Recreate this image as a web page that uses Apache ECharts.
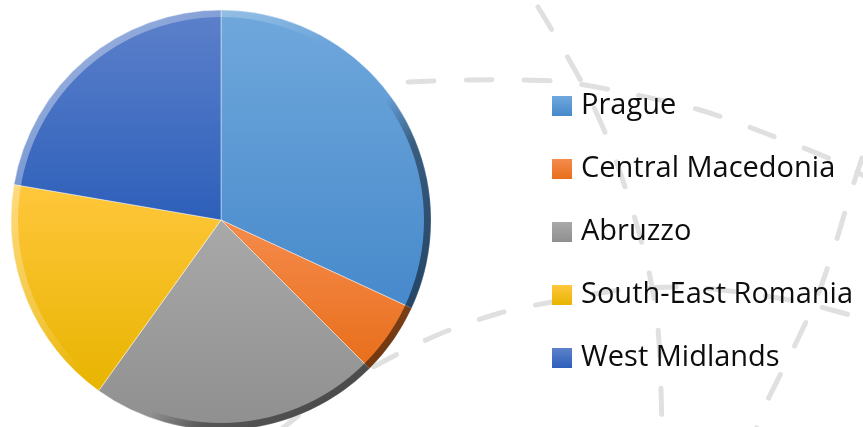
<!DOCTYPE html>
<html>
<head>
<meta charset="utf-8">
<script src="https://cdn.jsdelivr.net/npm/echarts@6/dist/echarts.min.js"></script>
<style>
html,body{margin:0;padding:0;background:#fff;}
#chart{width:863px;height:427px;}
</style>
</head>
<body>
<div id="chart"></div>
<script>
// ---- data ----
const categories = ['Prague', 'Central Macedonia', 'Abruzzo', 'South-East Romania', 'West Midlands'];
const values = [31.9, 5.6, 22.4, 17.8, 22.3];

// ---- styles ----
const topColors = ['#70A8DC', '#F58B4C', '#A9A9A9', '#FFC73C', '#5D81CB'];
const bottomColors = ['#4689CB', '#E86E1A', '#8F8F8F', '#E8B400', '#2D5FBA'];

function grad(i) {
  return new echarts.graphic.LinearGradient(0, 0, 0, 1, [
    { offset: 0, color: topColors[i] },
    { offset: 1, color: bottomColors[i] }
  ]);
}

const pieData = categories.map((name, i) => ({
  name: name,
  value: values[i],
  itemStyle: { color: grad(i) }
}));

const dashStyle = {
  stroke: '#E0E0E0',
  lineWidth: 5,
  lineCap: 'round',
  lineDash: [26, 32],
  fill: null
};
function deco(points) {
  return { type: 'polyline', z: -10, silent: true, shape: { points: points, smooth: 0.3 }, style: dashStyle };
}

const chart = echarts.init(document.getElementById('chart'), null, { renderer: 'canvas' });
chart.setOption({
  animation: false,
  backgroundColor: '#ffffff',
  graphic: [
    deco([[408, 82], [470, 80], [553, 81], [612, 90], [700, 110], [770, 135], [835, 161], [875, 182]]),
    deco([[538, 7], [553, 32], [582, 83], [607, 137], [627, 193], [645, 255], [656, 310], [660, 360], [662, 432]]),
    deco([[862, 158], [850, 195], [835, 245], [817, 297], [795, 345], [763, 410], [755, 432]]),
    deco([[278, 432], [330, 392], [390, 358], [442, 333], [500, 313], [552, 302], [620, 290], [683, 287], [737, 292], [800, 302], [875, 322]])
  ],
  legend: {
    orient: 'vertical',
    left: 552,
    top: 91.5,
    padding: 0,
    itemWidth: 20,
    itemHeight: 20,
    itemGap: 34,
    icon: 'rect',
    data: categories,
    itemStyle: { borderWidth: 0, shadowBlur: 0, shadowColor: 'transparent' },
    textStyle: {
      fontFamily: 'Open Sans',
      fontSize: 29,
      color: '#0d0d0d',
      lineHeight: 29,
      padding: [0, 0, 0, 4]
    }
  },
  series: [
    {
      type: 'pie',
      center: [221, 220],
      radius: [0, 210],
      startAngle: 90,
      clockwise: true,
      avoidLabelOverlap: false,
      label: { show: false },
      labelLine: { show: false },
      emphasis: { disabled: true },
      itemStyle: { borderColor: 'rgba(255,255,255,0.55)', borderWidth: 0.8 },
      data: pieData
    },
    {
      type: 'pie',
      name: 'bevel',
      silent: true,
      center: [221, 220],
      radius: [203, 210],
      label: { show: false },
      labelLine: { show: false },
      emphasis: { disabled: true },
      legendHoverLink: false,
      itemStyle: {
        color: new echarts.graphic.LinearGradient(0.1, 0.2, 0.9, 0.8, [
          { offset: 0, color: 'rgba(255,255,255,0.38)' },
          { offset: 0.3, color: 'rgba(255,255,255,0.18)' },
          { offset: 0.45, color: 'rgba(255,255,255,0)' },
          { offset: 0.64, color: 'rgba(0,0,0,0)' },
          { offset: 0.76, color: 'rgba(0,0,0,0.4)' },
          { offset: 1, color: 'rgba(0,0,0,0.5)' }
        ])
      },
      data: [{ value: 1, name: '' }]
    }
  ]
});
</script>
</body>
</html>
